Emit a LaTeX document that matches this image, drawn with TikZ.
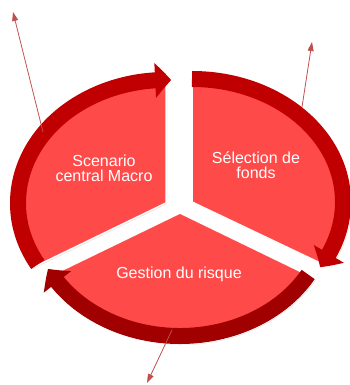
\documentclass[tikz,border=0pt]{standalone}
\usepackage{fontspec}
\newfontfamily\labelfont{Liberation Sans}
\usetikzlibrary{arrows.meta,bending,shadows}
\definecolor{segred}{HTML}{FF4A4A}
\definecolor{ringred}{HTML}{C00000}
\definecolor{ringdark}{HTML}{A00000}
\definecolor{linkred}{HTML}{C0504D}
\tikzset{
  seg/.style={fill=segred,draw=white,line width=1.5pt,drop shadow={shadow xshift=1pt,shadow yshift=-1pt,opacity=0.25}},
  ring/.style={line width=16pt,-{Triangle[width=34pt,length=16pt,bend]}},
  link/.style={linkred,line width=0.8pt,-{Triangle[width=6pt,length=9pt]}},
  lbl/.style={text=white,font=\labelfont\fontsize{16}{15}\selectfont,align=center}
}
\begin{document}
\begin{tikzpicture}[x=1pt,y=1pt]
\useasboundingbox (0,0) rectangle (350,385);
\path[seg] (166,182) -- ++(90:156 and 131) arc[start angle=90,end angle=210,x radius=156,y radius=131] -- cycle;
\path[seg] (192,183) -- ++(-30:159 and 131) arc[start angle=-30,end angle=90,x radius=159,y radius=131] -- cycle;
\path[seg] (180,172) -- ++(210:156 and 131) arc[start angle=210,end angle=330,x radius=156,y radius=131] -- cycle;
\draw[ring,ringred] (166,182) ++(210:148 and 123) arc[start angle=210,end angle=88,x radius=148,y radius=123];
\draw[ring,ringdark] (180,172) ++(330:148 and 123) arc[start angle=330,end angle=207,x radius=148,y radius=123];
\draw[ring,ringred] (192,183) ++(90:151 and 123) arc[start angle=90,end angle=-32,x radius=151,y radius=123];
\node[lbl] (macro) at (104,217) {Scenario\\central Macro};
\node[lbl] (fonds) at (256,220) {Sélection de\\fonds};
\node[lbl] (risque) at (179,111) {Gestion du risque};
\coordinate (macro-out) at (43,253);
\coordinate (macro-tip) at (13,373);
\coordinate (fonds-out) at (302,278);
\coordinate (fonds-tip) at (312,343);
\coordinate (risque-out) at (172,55);
\coordinate (risque-tip) at (147,2);
\draw[link] (macro-out) -- (macro-tip);
\draw[link] (fonds-out) -- (fonds-tip);
\draw[link] (risque-out) -- (risque-tip);
\end{tikzpicture}
\end{document}
